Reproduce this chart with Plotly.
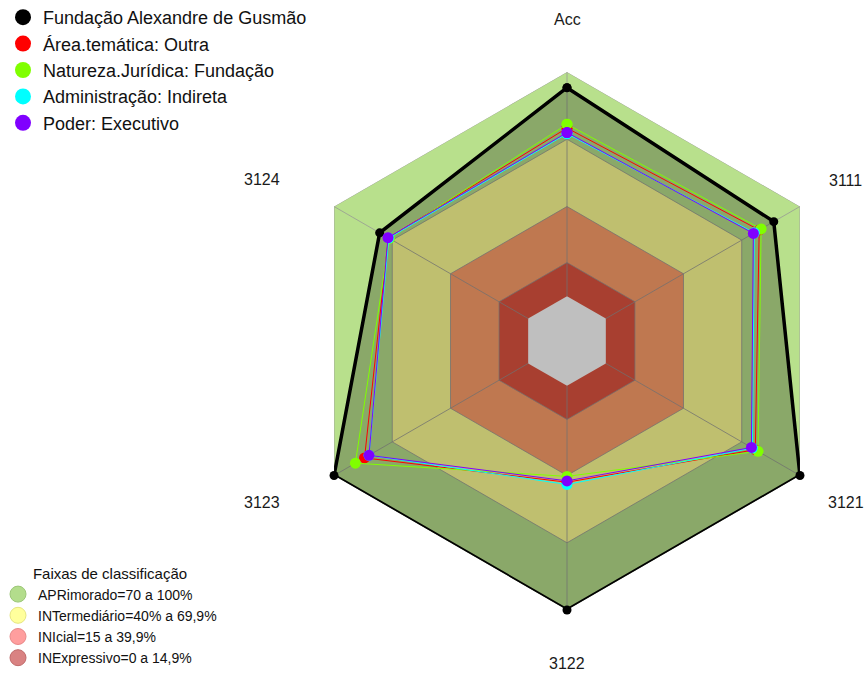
import math
import plotly.graph_objects as go

# ---------------- data ----------------
categories = ["Acc", "3111", "3121", "3122", "3123", "3124"]

series_names = [
    "Fundação Alexandre de Gusmão",
    "Área.temática: Outra",
    "Natureza.Jurídica: Fundação",
    "Administração: Indireta",
    "Poder: Executivo",
]
fundacao = [93.0, 86.5, 100.0, 100.0, 100.0, 76.5]
area_tematica = [75.0, 79.0, 77.0, 43.0, 84.3, 72.0]
natureza_juridica = [76.7, 80.0, 78.4, 40.4, 89.0, 71.5]
administracao = [72.5, 76.5, 75.5, 44.0, 82.0, 71.8]
poder = [73.0, 76.0, 75.0, 42.4, 82.0, 72.2]

band_names = [
    "APRimorado=70 a 100%",
    "INTermediário=40% a 69,9%",
    "INIcial=15 a 39,9%",
    "INExpressivo=0 a 14,9%",
]
band_upper = [100, 70, 40, 15]
band_floor = 0
radial_min = -20

# ---------------- styles ----------------
FONT = "Liberation Sans, Arial, sans-serif"
series_values = [fundacao, area_tematica, natureza_juridica, administracao, poder]
series_colors = ["#000000", "#ff0000", "#80ff00", "#00ffff", "#8000ff"]
band_fill = ["#b8e08c", "#ffff95", "#ffa06b", "#e05540"]
band_legend = ["#b3dd8c", "#ffff9c", "#ff9e9e", "#d98282"]
band_legend_line = ["#9cc777", "#e6e680", "#e88888", "#c06a6a"]

W, H = 867, 673
DOM_X = [298 / W, 836 / W]
DOM_Y = [1 - 610 / H, 1 - 72 / H]


def close(vals):
    return list(vals) + [vals[0]]


theta_c = close(categories)
fig = go.Figure()

# classification bands (largest first)
for up, col in zip(band_upper, band_fill):
    fig.add_trace(go.Scatterpolar(
        r=close([up] * len(categories)), theta=theta_c, mode="lines",
        fill="toself", fillcolor=col, line=dict(width=0, color=col),
        showlegend=False, hoverinfo="skip", cliponaxis=False))
# centre (no band)
fig.add_trace(go.Scatterpolar(
    r=close([band_floor] * len(categories)), theta=theta_c, mode="lines",
    fill="toself", fillcolor="#ffffff", line=dict(width=0, color="#ffffff"),
    showlegend=False, hoverinfo="skip", cliponaxis=False))

# grid: rings and spokes
grid_col = "rgba(150,150,150,0.75)"
for up in band_upper:
    fig.add_trace(go.Scatterpolar(
        r=close([up] * len(categories)), theta=theta_c, mode="lines",
        line=dict(width=1, color=grid_col), showlegend=False,
        hoverinfo="skip", cliponaxis=False))
sr, st = [], []
for c in categories:
    sr += [band_floor, band_upper[0], None]
    st += [c, c, None]
fig.add_trace(go.Scatterpolar(
    r=sr, theta=st, mode="lines", connectgaps=False,
    line=dict(width=1, color=grid_col), showlegend=False,
    hoverinfo="skip", cliponaxis=False))

# data series
for i, (name, vals, col) in enumerate(zip(series_names, series_values, series_colors)):
    if i == 0:
        fig.add_trace(go.Scatterpolar(
            r=close(vals), theta=theta_c, mode="lines+markers", name=name,
            fill="toself", fillcolor="rgba(0,0,0,0.25)",
            line=dict(color=col, width=3.5), marker=dict(size=9, color=col),
            showlegend=False, cliponaxis=False))
    else:
        fig.add_trace(go.Scatterpolar(
            r=close(vals), theta=theta_c, mode="lines+markers", name=name,
            line=dict(color=col, width=1), marker=dict(size=11, color=col),
            showlegend=False, cliponaxis=False))

# legend entries (series)
for name, col in zip(series_names, series_colors):
    fig.add_trace(go.Scatterpolar(
        r=[None], theta=[None], mode="markers", name=name,
        marker=dict(size=16, color=col), legend="legend"))
# legend entries (bands)
for name, col, lc in zip(band_names, band_legend, band_legend_line):
    fig.add_trace(go.Scatterpolar(
        r=[None], theta=[None], mode="markers", name=name,
        marker=dict(size=16, color=col, line=dict(color=lc, width=1)),
        legend="legend2"))

# axis labels placed outside the polygon, along each category direction
cx = (DOM_X[0] + DOM_X[1]) / 2 * W
cy = (1 - (DOM_Y[0] + DOM_Y[1]) / 2) * H
label_dist = 322
n = len(categories)
annotations = []
for i, c in enumerate(categories):
    ang = math.radians(90 - i * 360 / n)
    px = cx + label_dist * math.cos(ang)
    py = cy - label_dist * math.sin(ang)
    left = math.cos(ang) < -0.1
    annotations.append(dict(
        x=px / W, y=1 - py / H, xref="paper", yref="paper", text=c,
        showarrow=False, xanchor="right" if left else "center", yanchor="middle",
        xshift=-6 if left else 0,
        font=dict(family=FONT, size=16, color="#1a1a1a")))

fig.update_layout(
    width=W, height=H,
    margin=dict(l=0, r=0, t=0, b=0, autoexpand=False),
    paper_bgcolor="white", plot_bgcolor="white",
    font=dict(family=FONT, color="#1a1a1a"),
    polar=dict(
        domain=dict(x=DOM_X, y=DOM_Y),
        gridshape="linear", bgcolor="rgba(0,0,0,0)",
        angularaxis=dict(type="category", categoryarray=categories,
                         direction="clockwise", rotation=90,
                         showgrid=False, showline=False,
                         showticklabels=False, ticks=""),
        radialaxis=dict(range=[radial_min, band_upper[0]], visible=False,
                        showgrid=False),
    ),
    annotations=annotations,
    legend=dict(x=3 / W, y=1.0 + 1 / H, xanchor="left", yanchor="top",
                font=dict(family=FONT, size=18, color="#111111"),
                bgcolor="rgba(0,0,0,0)", itemclick=False, itemdoubleclick=False),
    legend2=dict(x=-2 / W, y=1 - 559 / H, xanchor="left", yanchor="top",
                 font=dict(family=FONT, size=14, color="#111111"),
                 title=dict(text="Faixas de classificação", side="top center",
                            font=dict(family=FONT, size=15, color="#111111")),
                 bgcolor="rgba(0,0,0,0)", itemclick=False, itemdoubleclick=False),
    showlegend=True,
)

fig.write_html("out.html", config={"displayModeBar": False},
               post_script="document.body.style.margin='0px';")
